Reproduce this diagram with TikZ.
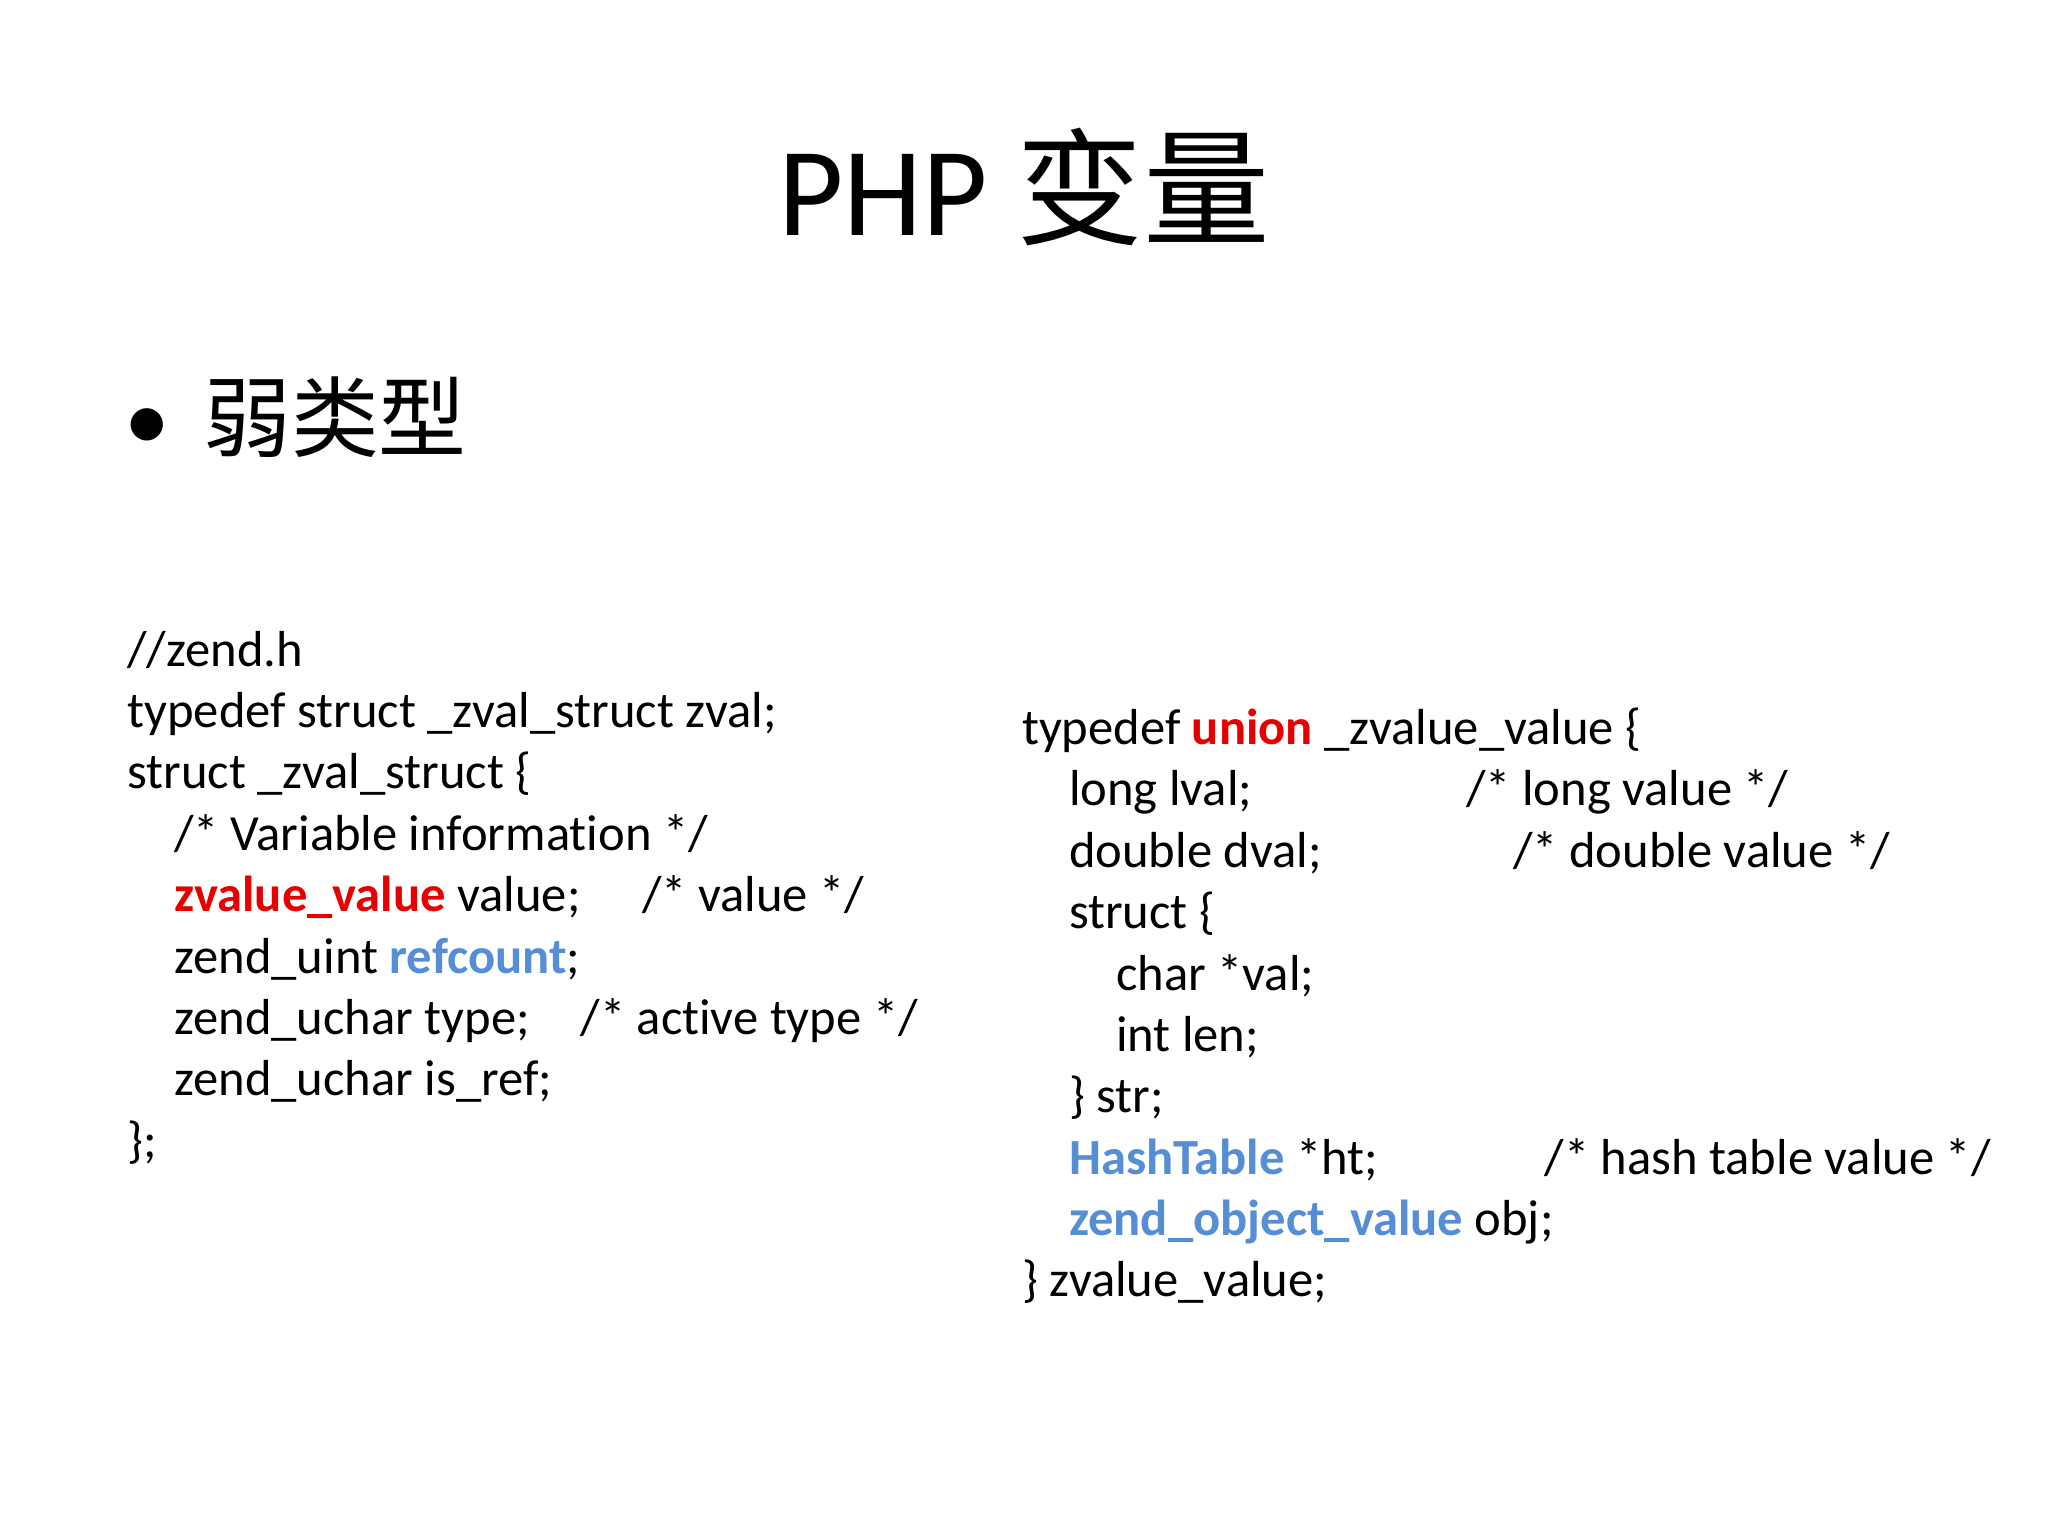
\documentclass[tikz,border=0pt]{standalone}
\usepackage{fontspec}
\setmainfont[Ligatures=NoCommon]{Carlito}
\newfontfamily\cjk{Noto Sans CJK SC}
\definecolor{kred}{RGB}{230,0,0}
\definecolor{kblue}{RGB}{85,142,213}
\begin{document}
\begin{tikzpicture}[x=0.01306cm,y=-0.01306cm,
  code/.style={anchor=base west,inner sep=0,font=\fontsize{14.4}{17}\selectfont}]
\useasboundingbox[fill=white] (0,0) rectangle (1568,1176);
\node[anchor=base,inner sep=0,font=\fontsize{36}{42}\selectfont] (title) at (784,180) {PHP {\cjk 变量}};
\node[anchor=base west,inner sep=0,font=\fontsize{26}{30}\selectfont] (bul) at (95,345) {\textbullet};
\node[anchor=base west,inner sep=0,font=\fontsize{25}{30}\selectfont\cjk] (weak) at (155,345) {弱类型};
% left block
\node[code] (l1) at (97,510) {//zend.h};
\node[code] (l2) at (97,557) {typedef struct \_zval\_struct zval;};
\node[code] (l3) at (97,604) {struct \_zval\_struct \{};
\node[code] (l4) at (133,651) {/* Variable information */};
\node[code] (l5) at (133,698) {\textcolor{kred}{\bfseries zvalue\_value} value;};
\node[code] (l5c) at (491,698) {/* value */};
\node[code] (l6) at (133,745) {zend\_uint \textcolor{kblue}{\bfseries refcount};};
\node[code] (l7) at (133,792) {zend\_uchar type;};
\node[code] (l7c) at (444,792) {/* active type */};
\node[code] (l8) at (133,839) {zend\_uchar is\_ref;};
\node[code] (l9) at (97,886) {\};};
% right block
\node[code] (r1) at (782,570) {typedef \textcolor{kred}{\bfseries union} \_zvalue\_value \{};
\node[code] (r2) at (818,617) {long lval;};
\node[code] (r2c) at (1122,617) {/* long value */};
\node[code] (r3) at (818,664) {double dval;};
\node[code] (r3c) at (1158,664) {/* double value */};
\node[code] (r4) at (818,711) {struct \{};
\node[code] (r5) at (854,758) {char *val;};
\node[code] (r6) at (854,805) {int len;};
\node[code] (r7) at (818,852) {\} str;};
\node[code] (r8) at (818,899) {\textcolor{kblue}{\bfseries HashTable} *ht;};
\node[code] (r8c) at (1182,899) {/* hash table value */};
\node[code] (r9) at (818,946) {\textcolor{kblue}{\bfseries zend\_object\_value} obj;};
\node[code] (r10) at (782,993) {\} zvalue\_value;};
\end{tikzpicture}
\end{document}
